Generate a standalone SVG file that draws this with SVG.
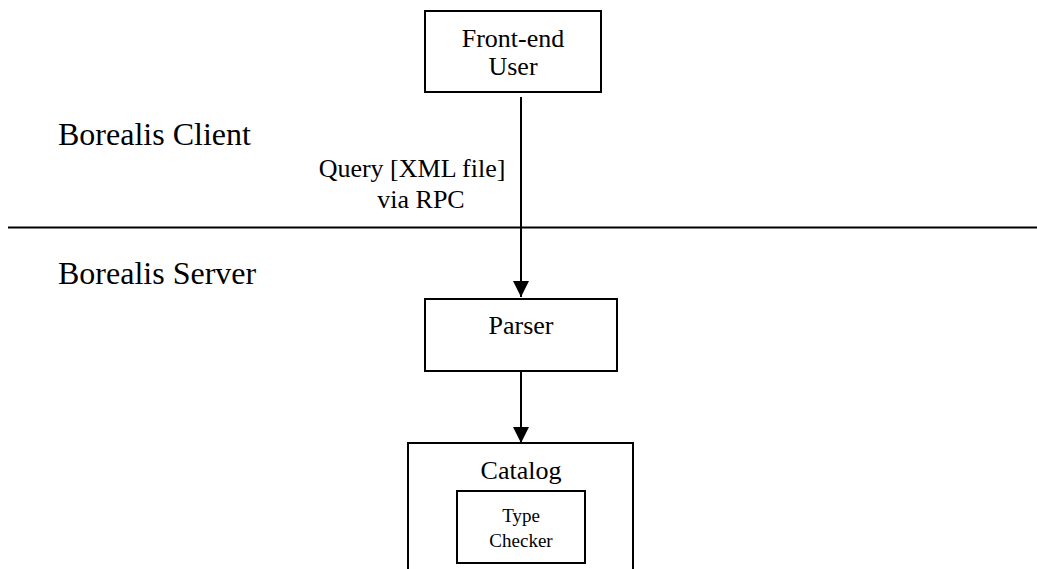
<svg xmlns="http://www.w3.org/2000/svg" width="1037" height="569" viewBox="0 0 1037 569">
<defs>
<style>
.t{font-family:"Liberation Serif","Times New Roman",serif;fill:#000;text-anchor:middle}
.box{fill:#fff;stroke:#000;stroke-width:2}
.ln{stroke:#000;stroke-width:2;fill:none}
</style>
<marker id="ah" markerWidth="16" markerHeight="16" viewBox="0 0 16 16" refX="16" refY="8" orient="auto" markerUnits="userSpaceOnUse">
<path d="M0,0 L16,8 L0,16 Z" fill="#000"/>
</marker>
</defs>
<rect width="1037" height="569" fill="#fff"/>
<g id="labels">
<text class="t" x="58" y="145" font-size="32" style="text-anchor:start">Borealis Client</text>
<text class="t" x="58" y="284" font-size="32" style="text-anchor:start">Borealis Server</text>
<line class="ln" x1="8" y1="227.5" x2="1037" y2="227.5"/>
</g>
<g id="connectors">
<line class="ln" x1="521" y1="97" x2="521" y2="297" marker-end="url(#ah)"/>
<text class="t" x="412" y="177" font-size="26">Query [XML file]</text>
<text class="t" x="421" y="208" font-size="26">via RPC</text>
<line class="ln" x1="521" y1="372" x2="521" y2="443" marker-end="url(#ah)"/>
</g>
<g id="frontend">
<rect class="box" x="425" y="11" width="176" height="81"/>
<text class="t" x="513" y="47" font-size="26">Front-end</text>
<text class="t" x="513" y="75" font-size="26">User</text>
</g>
<g id="parser">
<rect class="box" x="425" y="299" width="192" height="72"/>
<text class="t" x="521" y="334" font-size="26">Parser</text>
</g>
<g id="catalog">
<rect class="box" x="408" y="443" width="225" height="140"/>
<text class="t" x="521" y="479" font-size="26">Catalog</text>
</g>
<g id="typechecker">
<rect class="box" x="457" y="491" width="128" height="72"/>
<text class="t" x="521" y="522" font-size="19">Type</text>
<text class="t" x="521" y="547" font-size="19">Checker</text>
</g>
</svg>
